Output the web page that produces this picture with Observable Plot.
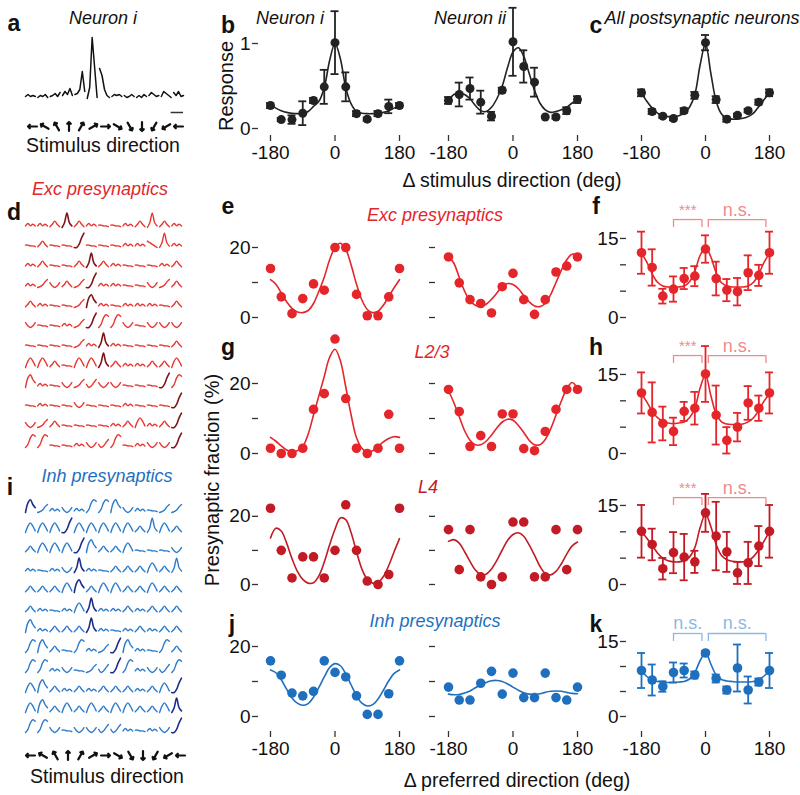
<!DOCTYPE html>
<html><head><meta charset="utf-8">
<script src="https://cdn.jsdelivr.net/npm/d3@7"></script>
<script src="https://cdn.jsdelivr.net/npm/@observablehq/plot@0.6"></script>
<style>
body{margin:0;background:#fff}
#fig{position:relative;width:800px;height:795px;font-family:"Liberation Sans",Arial,sans-serif;overflow:hidden}
#fig svg{position:absolute;left:0;top:0;overflow:visible}
.t{position:absolute;white-space:nowrap;transform:translate(-50%,-50%);font-size:19.5px;color:#111;line-height:1}
.b{font-weight:bold;font-size:23px}
.i{font-style:italic;font-size:18px}
</style></head><body><div id="fig"></div>
<script>
// ---------- data ----------
const dirs = [-180,-150,-120,-90,-60,-30,0,30,60,90,120,150,180];
const fitX = [-180,-165,-150,-135,-120,-105,-90,-75,-60,-45,-30,-15,0,15,30,45,60,75,90,105,120,135,150,165,180];
const tickDirs = [-180,0,180];
const arrowAngles = [180,150,120,90,60,30,0,-30,-60,-90,-120,-150,-180];

// panel b / c
const b1Mean = [0.27,0.105,0.105,0.18,0.33,0.49,1.01,0.49,0.175,0.11,0.175,0.26,0.27];
const b1Err  = [0.03,0.02,0.05,0.14,0.03,0.2,0.37,0.17,0.03,0.02,0.03,0.08,0.03];
const b1Fit  = [0.28,0.24,0.21,0.19,0.18,0.175,0.175,0.2,0.26,0.32,0.48,0.8,1.0,0.82,0.48,0.29,0.2,0.18,0.175,0.175,0.18,0.19,0.21,0.24,0.27];
const b2Mean = [0.33,0.40,0.47,0.31,0.145,0.45,1.02,0.73,0.545,0.135,0.135,0.21,0.34];
const b2Err  = [0.04,0.14,0.13,0.135,0.05,0.03,0.4,0.19,0.17,0,0.02,0.04,0.04];
const b2Fit  = [0.33,0.4,0.42,0.4,0.35,0.27,0.21,0.2,0.25,0.35,0.5,0.72,0.9,0.95,0.85,0.65,0.45,0.3,0.22,0.19,0.2,0.22,0.25,0.3,0.34];
const cMean  = [0.42,0.20,0.145,0.117,0.21,0.39,1.01,0.34,0.11,0.155,0.21,0.31,0.42];
const cErr   = [0.04,0.03,0.02,0.02,0.03,0.04,0.09,0.04,0.03,0.02,0.02,0.03,0.04];
const cFit   = [0.42,0.32,0.24,0.18,0.15,0.14,0.14,0.15,0.18,0.25,0.4,0.75,1.0,0.65,0.32,0.17,0.12,0.11,0.11,0.12,0.14,0.18,0.26,0.34,0.42];

// panel e (exc, all)
const e1Vals = [14.0,5.9,1.1,5.4,9.6,7.8,20.0,20.0,6.6,0.5,0.5,5.9,14.0];
const e1Fit  = [10.8,9.5,7.0,4.5,2.6,1.6,1.4,2.0,4.0,7.5,11.5,16.5,20.0,21.2,19.5,15.0,9.5,5.0,2.3,1.4,1.8,3.5,6.0,8.5,10.8];
const e2Vals = [17.3,9.9,5.1,4.0,1.3,8.8,12.6,5.1,0.9,5.1,13.0,14.7,17.3];
const e2Fit  = [17.6,15.5,11.5,7.5,4.8,3.5,3.2,3.8,5.2,7.0,8.8,9.7,9.4,8.2,6.3,4.5,3.3,3.1,4.0,6.5,10.0,13.5,16.5,18.1,17.8];
const fMean  = [12.3,9.5,4.05,5.4,7.4,7.85,13.0,7.4,5.2,4.9,8.5,8.0,12.3];
const fErr   = [4.0,3.45,1.4,2.4,2.0,1.9,2.6,3.2,2.1,2.6,3.3,2.0,4.0];
const fFit   = [12.2,10.5,8.3,6.7,6.0,5.8,5.8,5.8,6.0,6.8,8.8,11.8,13.3,11.5,8.5,6.6,6.0,5.8,5.8,5.8,6.0,6.7,8.3,10.5,12.2];

// panel g (L2/3)
const g1Vals = [1.5,0,0,1.5,12.6,17.1,32.7,15.7,1.5,0,1.5,11.2,1.5];
const g1Fit  = [4.6,3.5,2.2,1.0,0.6,0.8,2.0,5.5,11.0,16.5,22.0,27.5,29.8,26.5,19.0,11.0,4.5,1.5,0.4,0.8,2.0,3.3,4.3,4.8,4.6];
const g2Vals = [18.3,12.0,2.0,5.1,2.0,11.3,11.3,1.4,0.8,6.3,12.6,18.3,18.3];
const g2Fit  = [18.0,14.5,10.5,6.5,3.8,2.5,2.5,3.5,5.3,7.3,9.0,9.8,9.5,8.0,6.0,3.8,2.5,2.5,4.0,7.0,11.0,15.0,18.5,20.3,18.6];
const hMean  = [11.5,7.8,5.7,4.2,8.0,8.6,15.1,7.3,2.5,5.0,9.6,8.6,11.5];
const hErr   = [3.9,5.7,3.2,2.6,1.8,3.1,5.3,5.6,2.5,2.7,3.2,2.4,3.9];
const hFit   = [11.3,9.8,8.0,6.8,6.1,5.8,5.7,5.8,6.0,6.8,8.6,12.5,14.9,11.0,7.5,6.0,5.6,5.5,5.5,5.6,6.0,6.8,8.2,10.0,11.3];

// L4
const l1Vals = [22.1,9.9,1.9,8.0,8.0,1.9,9.9,23.1,9.9,1.0,0,2.9,22.1];
const l1Fit  = [13.5,16.3,15.5,12.0,7.5,3.8,1.5,0.4,0.5,2.5,6.5,11.5,16.0,19.3,18.8,15.0,9.5,4.5,1.5,0.4,0.6,2.3,5.5,9.5,13.3];
const l2Vals = [15.9,4.3,15.9,2.2,0,2.2,18.1,18.1,2.2,2.2,15.9,4.3,15.9];
const l2Fit  = [12.5,13.0,12.0,9.5,6.7,4.2,2.9,3.0,4.5,7.0,10.0,12.8,14.5,15.0,14.0,11.5,8.5,5.3,3.2,2.8,3.8,6.0,8.8,11.2,12.3];
const l3Mean = [10.1,7.6,3.0,6.05,5.2,4.3,13.6,9.2,6.2,2.2,4.1,7.3,10.1];
const l3Err  = [5.0,3.0,2.05,3.9,4.4,2.1,3.6,6.5,3.8,2.1,4.0,3.8,5.0];
const l3Fit  = [10.0,8.8,7.4,6.0,5.0,4.5,4.3,4.3,4.5,5.2,7.0,10.8,13.4,11.0,7.6,5.5,4.7,4.4,4.3,4.3,4.5,5.3,6.6,8.3,10.0];

// inh (j, k)
const j1Vals = [15.9,11.8,6.7,5.9,7.2,15.9,12.6,11.3,5.9,0.6,0.6,6.5,15.9];
const j1Fit  = [13.3,12.5,10.5,7.8,5.3,3.8,3.2,3.7,5.5,8.3,11.3,14.0,15.1,14.5,12.2,9.0,6.0,3.8,3.0,3.4,5.0,7.5,10.2,12.3,13.3];
const j2Vals = [8.4,4.7,4.7,9.5,12.9,6.4,12.4,5.4,5.4,12.4,5.4,4.7,8.4];
const j2Fit  = [6.4,6.2,6.3,6.7,7.3,8.2,9.0,9.7,10.2,10.3,10.0,9.3,8.4,7.5,6.8,6.4,6.3,6.5,6.9,7.2,7.3,7.2,6.9,6.6,6.5];
const kMean  = [9.2,7.3,6.0,8.8,9.2,8.3,12.7,7.6,5.3,9.7,5.3,6.9,9.2];
const kErr   = [3.5,3.1,1.05,2.0,1.4,0.7,0.4,0.8,0.7,4.7,2.7,0.7,3.5];
const kFit   = [9.2,8.0,7.3,7.0,6.9,6.8,6.8,6.9,7.0,7.5,8.8,11.2,12.8,10.5,8.3,7.4,7.1,7.0,6.9,6.9,6.9,7.0,7.4,8.1,9.2];

// significance brackets
const bracketSpans = [[-90,-10],[8,170]];
const excSig = ["***","n.s."];
const inhSig = ["n.s.","n.s."];

// panel a trace (13 stimulus segments, 5 samples each, px above baseline)
const aTrace = [[1,3,1,2,1],[0,2,1,3,0],[1,2,4,1,5],[2,6,3,9,2],[3,4,8,26,6],[-1,10,60,30,0],[29,22,8,2,0],
  [1,3,2,3,1],[2,0,1,3,1],[0,2,0,3,1],[2,5,3,1,2],[1,6,4,2,0],[5,2,6,1,2]];
const scaleBar = [[11.8,12.8]];

// single-cell trace shapes (d, i)
const shapes = {"~":[1,2.5,1,2,1],"-":[1.5,1.5,1,1,0.5],"^":[0.5,2,4,2,0.5],"n":[0,4,6,4,1],"A":[0,3,9,3,1],
  "J":[0,0,2,6,9],"j":[0,0.5,1.5,3.5,5],"v":[3,1,0,1,3],"d":[4,3,2,1,0],"f":[0,2,6,8,7],"r":[0,6,8,5,3],"c":[2,0,1,3,5]};
const excRows = ["~~^A^~--~^A^~","-^--J---~~dA~","~^--^A^~---~^","~jv^jJ~~--vj^","^~--jr~-~~~-^","v--~jJffv-vvv",
  "----j~A~----^","nn^-nnA^~~^^n","r~-vjcvv---Jf","-~--v---~---J","vj^----~^n~^J","ff--~vcf-~vvJ"];
const excPref = [3,4,5,5,5,5,6,6,11,12,12,12];
const inhRows = ["rj~v~ffrv~-jj","nnnJnnnnn^An^","^nnnJr^^n---v","~-~vA~-^^^n^A","^^^nr^nn^^n^^","^~-~nA~~^~^^^",
  "r~^^^A~-~^~^^","fr^-f~jJr~-f^","ff~v-jcJf~vcf","nr^~^~^^^~^nJ","nr^n^n^nn^^nA","ffv-vvcc~-~vJ"];
const inhPref = [0,3,4,4,4,5,5,7,7,12,12,12];

// ---------- colours ----------
const RED = "#e4252a", RED4 = "#c21b25", REDL = "#f08a8a", BLUE = "#1f6fbf", BLUEL = "#8db8e3", INK = "#222";
const FONT = "Liberation Sans, Arial, sans-serif";

// ---------- helpers ----------
const fig = document.getElementById("fig");
function layer(o){
  const svg = Plot.plot({width:800,height:795,
    marginLeft:o.px[0],marginRight:800-o.px[1],marginTop:o.py[1],marginBottom:795-o.py[0],
    x:o.x,y:o.y,style:{background:"transparent",overflow:"visible",fontFamily:FONT},marks:o.marks});
  fig.appendChild(svg);
}
const pts = (m,e)=>dirs.map((x,i)=>({x,y:m[i],e:e?e[i]:0}));
const fitD = f=>fitX.map((x,i)=>({x,y:f[i]}));
function tuning(o){
  const P = pts(o.mean,o.err), F = fitD(o.fit), c = o.color;
  const marks = [Plot.line(F,{x:"x",y:"y",stroke:c,strokeWidth:1.6,curve:"catmull-rom"})];
  if (o.err) {
    const E = P.filter(d=>d.e>0);
    marks.push(Plot.ruleX(E,{x:"x",y1:d=>d.y-d.e,y2:d=>d.y+d.e,stroke:c,strokeWidth:1.8}));
    marks.push(Plot.ruleY(E,{x1:"x",x2:"x",y:d=>d.y+d.e,insetLeft:-4,insetRight:-4,stroke:c,strokeWidth:1.8}));
    marks.push(Plot.ruleY(E,{x1:"x",x2:"x",y:d=>d.y-d.e,insetLeft:-4,insetRight:-4,stroke:c,strokeWidth:1.8}));
  }
  marks.push(Plot.dot(P,{x:"x",y:"y",r:o.r||4.8,fill:c,stroke:"none"}));
  if (o.sig) {
    const B = bracketSpans.map((s,i)=>({x1:s[0],x2:s[1],t:o.sig[i]}));
    const [top,leg,ty] = o.sigY;
    marks.push(Plot.ruleY(B,{x1:"x1",x2:"x2",y:top,stroke:o.sigColor,strokeWidth:1.3}));
    marks.push(Plot.ruleX(B,{x:"x1",y1:leg,y2:top,stroke:o.sigColor,strokeWidth:1.3}));
    marks.push(Plot.ruleX(B,{x:"x2",y1:leg,y2:top,stroke:o.sigColor,strokeWidth:1.3}));
    marks.push(Plot.text(B,{x:d=>(d.x1+d.x2)/2,y:ty,text:"t",fill:o.sigColor,fontSize:d=>d.t==="***"?15:18,fontStyle:d=>d.t==="***"?"normal":"italic"}));
  }
  layer({px:o.px,py:o.py,x:{domain:[-180,180],axis:null},y:{domain:o.yd,axis:null},marks});
}
function yAxis(xpx,py,yd,ticks,labels){
  layer({px:[xpx,xpx+20],py,x:{domain:[0,1],axis:null},y:{domain:yd},
    marks:[Plot.axisY({ticks:ticks,tickFormat:d=>(labels&&(d===ticks[0]||d===ticks[ticks.length-1]))?String(d):"",
      tickSize:6,tickPadding:2,fontSize:19,label:null,line:true,stroke:"#333",strokeWidth:1.3,fill:"#111"})]});
}
function xAxis(px,ypx){
  layer({px,py:[ypx,ypx-10],x:{domain:[-180,180]},y:{domain:[0,1],axis:null},
    marks:[Plot.axisX({ticks:tickDirs,tickFormat:d=>String(d),tickSize:6,tickPadding:4,fontSize:19,label:null,line:true,stroke:"#333",strokeWidth:1.3,fill:"#111"})]});
}
function arrows(px,ypx){
  const A = arrowAngles.map((a,i)=>({i,a}));
  layer({px,py:[ypx,ypx-10],x:{domain:[0,12],axis:null},y:{domain:[0,1],axis:null},
    marks:[Plot.vector(A,{x:"i",y:0,rotate:d=>90-d.a,length:9,stroke:"#111",strokeWidth:2.2})]});
}
function cells(rows,pref,px,py,light,dark){
  const D=[];
  rows.forEach((row,r)=>[...row].forEach((ch,c)=>shapes[ch].forEach((v,k)=>
    D.push({x:c+k*0.2,y:(rows.length-1-r)*12.5+v,id:r*13+c,dk:c===pref[r]}))));
  layer({px,py,x:{domain:[0,12.8],axis:null},y:{domain:[0,137.5],axis:null},marks:[
    Plot.line(D.filter(d=>!d.dk),{x:"x",y:"y",z:"id",stroke:light,strokeWidth:1.4,curve:"catmull-rom"}),
    Plot.line(D.filter(d=>d.dk),{x:"x",y:"y",z:"id",stroke:dark,strokeWidth:1.6,curve:"catmull-rom"})]});
}
function txt(s,x,y,cls,style){
  const d=document.createElement("div");d.className="t "+(cls||"");d.textContent=s;
  d.style.left=x+"px";d.style.top=y+"px";if(style)Object.assign(d.style,style);fig.appendChild(d);
}

// ---------- panel a ----------
{
  const D=[];aTrace.forEach((seg,s)=>seg.forEach((v,k)=>D.push({x:s+k*0.2,y:v,s})));
  const S=scaleBar.map(([a,b])=>({a,b}));
  layer({px:[25,183],py:[97,37],x:{domain:[0,12.8],axis:null},y:{domain:[0,60],axis:null},marks:[
    Plot.line(D,{x:"x",y:"y",z:"s",stroke:"#111",strokeWidth:1.5}),
    Plot.ruleY(S,{x1:"a",x2:"b",y:-15,stroke:"#333",strokeWidth:1.5})]});
  arrows([32,178],126);
}
// ---------- b, c ----------
tuning({px:[270,399],py:[128,43],yd:[0,1],mean:b1Mean,err:b1Err,fit:b1Fit,color:INK,r:4.5});
tuning({px:[448,577],py:[128,43],yd:[0,1],mean:b2Mean,err:b2Err,fit:b2Fit,color:INK,r:4.5});
tuning({px:[641,769],py:[128,43],yd:[0,1],mean:cMean,err:cErr,fit:cFit,color:INK,r:4.5});
yAxis(258,[128,43],[0,1],[0,1],true);
xAxis([270,399],135);xAxis([448,577],135);xAxis([641,769],135);
// ---------- d, i ----------
cells(excRows,excPref,[25,181],[447,227],"#e8352f","#7e1518");
cells(inhRows,inhPref,[25,181],[732,512],"#2b7bcb","#1c2d8c");
arrows([30,180],755);
// ---------- e, f ----------
tuning({px:[270,399],py:[317,247],yd:[0,20],mean:e1Vals,fit:e1Fit,color:RED});
tuning({px:[448,577],py:[317,247],yd:[0,20],mean:e2Vals,fit:e2Fit,color:RED});
tuning({px:[641,769],py:[317,238],yd:[0,15],mean:fMean,err:fErr,fit:fFit,color:RED,sig:excSig,sigY:[18.6,17.1,20.4],sigColor:REDL});
yAxis(258,[317,236.5],[0,23],[0,10,20],true);yAxis(435,[317,236.5],[0,23],[0,10,20],false);
yAxis(626,[317,229],[0,16.7],[0,5,10,15],true);
// ---------- g, h ----------
tuning({px:[270,399],py:[453,383],yd:[0,20],mean:g1Vals,fit:g1Fit,color:RED});
tuning({px:[448,577],py:[453,383],yd:[0,20],mean:g2Vals,fit:g2Fit,color:RED});
tuning({px:[641,769],py:[453,374],yd:[0,15],mean:hMean,err:hErr,fit:hFit,color:RED,sig:excSig,sigY:[18.6,17.1,20.4],sigColor:REDL});
yAxis(258,[453,372.5],[0,23],[0,10,20],true);yAxis(435,[453,372.5],[0,23],[0,10,20],false);
yAxis(626,[453,365],[0,16.7],[0,5,10,15],true);
// ---------- L4 ----------
tuning({px:[270,399],py:[584,515],yd:[0,20],mean:l1Vals,fit:l1Fit,color:RED4});
tuning({px:[448,577],py:[584,515],yd:[0,20],mean:l2Vals,fit:l2Fit,color:RED4});
tuning({px:[641,769],py:[584,505],yd:[0,15],mean:l3Mean,err:l3Err,fit:l3Fit,color:RED4,sig:excSig,sigY:[16.5,15.0,18.3],sigColor:REDL});
yAxis(258,[584,505.6],[0,23],[0,10,20],true);yAxis(435,[584,505.6],[0,23],[0,10,20],false);
yAxis(626,[584,496],[0,16.7],[0,5,10,15],true);
// ---------- j, k ----------
tuning({px:[270,399],py:[716,646],yd:[0,20],mean:j1Vals,fit:j1Fit,color:BLUE});
tuning({px:[448,577],py:[716,646],yd:[0,20],mean:j2Vals,fit:j2Fit,color:BLUE});
tuning({px:[641,769],py:[716,641],yd:[0,15],mean:kMean,err:kErr,fit:kFit,color:BLUE,sig:inhSig,sigY:[16.6,15.0,18.7],sigColor:BLUEL});
yAxis(258,[716,635.5],[0,23],[0,10,20],true);yAxis(435,[716,635.5],[0,23],[0,10,20],false);
yAxis(626,[716,632.5],[0,16.7],[0,5,10,15],true);
xAxis([270,399],731);xAxis([448,577],731);xAxis([641,769],731);

// ---------- text ----------
txt("a",14,23,"b");txt("Neuron i",103,18,"i");txt("Stimulus direction",103,146);
txt("b",228,25,"b");txt("Neuron i",290,18,"i");txt("Neuron ii",470,18,"i");
txt("c",596,25,"b");txt("All postsynaptic neurons",702,18,"i");
txt("Response",226,86,"",{transform:"translate(-50%,-50%) rotate(-90deg)",fontSize:"20px"});
txt("\u0394 stimulus direction (deg)",512,181);
txt("d",14,212,"b");txt("Exc presynaptics",100,189,"i",{color:RED});
txt("e",228,206,"b");txt("Exc presynaptics",435,215,"i",{color:RED});
txt("f",596,206,"b");
txt("g",228,347,"b");txt("L2/3",432,352,"i",{color:RED});
txt("h",596,347,"b");
txt("L4",428,487,"i",{color:RED4});
txt("Presynaptic fraction (%)",212,480,"",{transform:"translate(-50%,-50%) rotate(-90deg)",fontSize:"20px"});
txt("i",10,487,"b");txt("Inh presynaptics",107,476,"i",{color:BLUE});
txt("Stimulus direction",107,777);
txt("j",232,624,"b");txt("Inh presynaptics",435,621,"i",{color:BLUE});
txt("k",596,624,"b");
txt("\u0394 preferred direction (deg)",517,781);
</script></body></html>
